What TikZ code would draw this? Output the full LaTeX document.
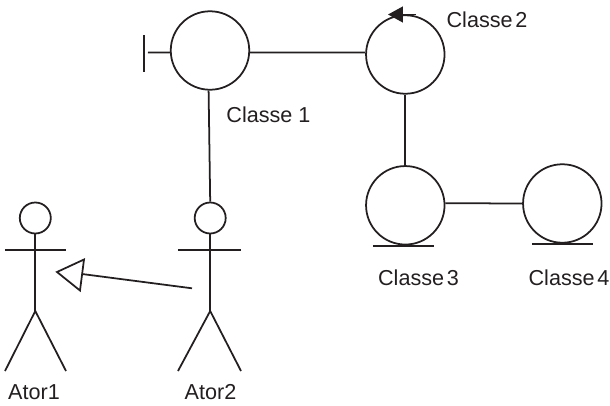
\documentclass[tikz,border=0pt]{standalone}
\usepackage{fontspec}
\setmainfont{Liberation Sans}
\usetikzlibrary{arrows.meta, positioning}
\definecolor{color1}{RGB}{35,31,32}

\begin{document}
\begin{tikzpicture}[x=0.02cm, y=-0.02cm, line cap=butt, color1, line width=1pt,
        classe/.style={draw, circle, minimum size=1.57cm, inner sep=0pt},
        cabeca/.style={draw, circle, minimum size=0.62cm, inner sep=0pt},
        rotulo/.style={inner sep=0pt, font=\fontsize{12.3}{14}\selectfont}]
        \useasboundingbox (0,0) rectangle (610,406);

        \node[classe] (classe1) at (210,50.5) {};
        \node[classe] (classe2) at (405.3,54.5) {};
        \node[classe] (classe3) at (405.3,205.3) {};
        \node[classe] (classe4) at (562.3,203.5) {};

        \draw (classe1.-3) -- (classe2.177);
        \draw (classe2.south) -- (classe3.north);
        \draw (classe3.3) -- (classe4.180);

        % fronteira
        \coordinate (fronteiraA) at (144,35);
        \coordinate (fronteiraB) at (144,72);
        \coordinate (fronteiraC) at (148,52.5);
        \draw (fronteiraA) -- (fronteiraB);
        \draw (fronteiraC) -- (classe1.183);

        % controle
        \coordinate (setaA) at (416,14.5);
        \coordinate (setaB) at (388,14.5);
        \draw[-{Triangle[length=8.5pt, width=9pt]}] (setaA) -- (setaB);

        % entidades
        \coordinate (baseA) at (373,246);
        \coordinate (baseB) at (434,246);
        \coordinate (baseC) at (532,244);
        \coordinate (baseD) at (593,244);
        \draw (baseA) -- (baseB);
        \draw (baseC) -- (baseD);

        % atores
        \node[cabeca] (ator1) at (35.3,218) {};
        \node[cabeca] (ator2) at (210.2,218) {};
        \draw (classe1.-92) -- (ator2.north);

        \coordinate (corpo1) at (35.3,311);
        \coordinate (corpo2) at (210.2,311);
        \draw (ator1.south) -- (corpo1);
        \draw (ator2.south) -- (corpo2);
        \draw (5,250) -- (66,250);
        \draw (178,250) -- (241,250);
        \draw (5,371) -- (corpo1) -- (66,371);
        \draw (178,371) -- (corpo2) -- (241,371);

        % heranca
        \coordinate (herancaA) at (192,288.3);
        \coordinate (herancaB) at (82,274);
        \coordinate (pontaA) at (57,272);
        \coordinate (pontaB) at (84,259.5);
        \coordinate (pontaC) at (80,290.5);
        \draw (herancaA) -- (herancaB);
        \draw[line join=miter] (pontaA) -- (pontaB) -- (pontaC) -- cycle;

        \node[rotulo] (rotulo1) at (268.5,115) {Classe 1};
        \node[rotulo] (rotulo2) at (487,20) {Classe\hspace{1.5pt}2};
        \node[rotulo] (rotulo3) at (418.5,278) {Classe\hspace{1.5pt}3};
        \node[rotulo] (rotulo4) at (569,278) {Classe\hspace{1.5pt}4};
        \node[rotulo] (rotulo5) at (34,392) {Ator1};
        \node[rotulo] (rotulo6) at (210.5,392) {Ator2};
    \end{tikzpicture}
\end{document}
